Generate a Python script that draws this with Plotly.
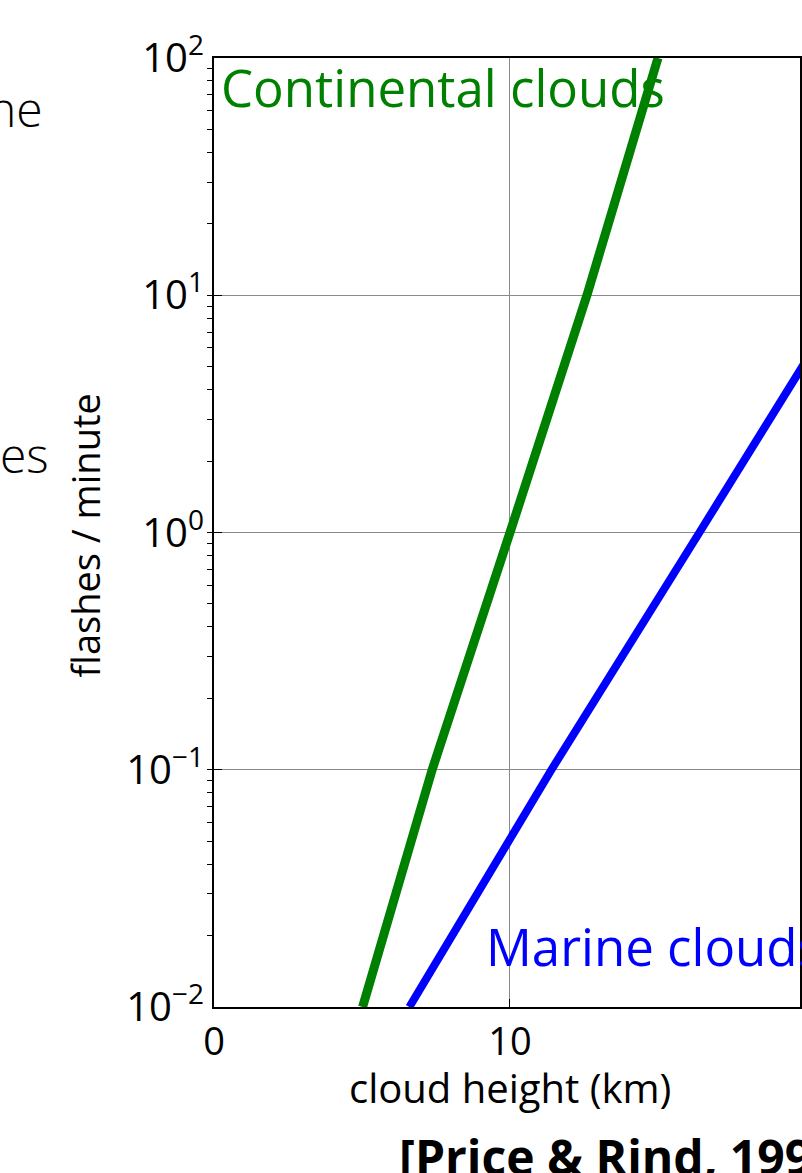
import plotly.graph_objects as go

# Data (cloud height in km, flashes per minute)
cont_height = [5.02, 7.37, 10.0, 12.6, 15.0]
cont_flashes = [0.01, 0.1, 1.0, 10.0, 100.0]

marine_height = [6.6, 11.4, 16.4, 20.0]
marine_flashes = [0.01, 0.1, 1.0, 5.3]

y_tickvals = [0.01, 0.1, 1, 10, 100]
y_ticktext = ["10<sup>\u22122</sup>", "10<sup>\u22121</sup>", "10<sup>0</sup>",
              "10<sup>1</sup>", "10<sup>2</sup>"]
x_tickvals = [0, 10]
x_ticktext = ["0", "10"]

W, H = 802, 1173
L, T, B, R = 214, 58, 166, 0
PW, PH = W - L - R, H - T - B

def px(x):
    return (x - L) / PW

def py(y):
    return (H - B - y) / PH

FONT = "Open Sans"

fig = go.Figure()
fig.add_trace(go.Scatter(x=cont_height, y=cont_flashes, mode="lines",
                         line=dict(color="#008000", width=9), showlegend=False))
fig.add_trace(go.Scatter(x=marine_height, y=marine_flashes, mode="lines",
                         line=dict(color="#0000ff", width=8), showlegend=False))

fig.update_layout(
    width=W, height=H,
    margin=dict(l=L, r=R, t=T, b=B, pad=0),
    paper_bgcolor="white", plot_bgcolor="white",
    font=dict(family=FONT, color="black"),
    xaxis=dict(range=[0, PW / 29.7], tickvals=x_tickvals, ticktext=x_ticktext,
               showgrid=True, gridcolor="#8a8a8a", gridwidth=1,
               showline=True, linecolor="black", linewidth=2, mirror=True,
               ticks="inside", ticklen=8, tickcolor="black",
               tickfont=dict(size=38, family=FONT), zeroline=False),
    yaxis=dict(type="log", range=[-2, 2], tickvals=y_tickvals, ticktext=y_ticktext,
               showgrid=True, gridcolor="#8a8a8a", gridwidth=1,
               showline=True, linecolor="black", linewidth=2, mirror=True,
               ticks="inside", ticklen=8, tickcolor="black",
               tickfont=dict(size=40, family=FONT),
               minor=dict(ticks="outside", ticklen=5, tickcolor="black",
                          showgrid=False, dtick="D1")),
)

ann = [
    dict(text="Continental clouds", x=px(219), y=py(50), xanchor="left", yanchor="top",
         font=dict(size=51, color="#008000", family=FONT)),
    dict(text="Marine clouds", x=px(485), y=py(909), xanchor="left", yanchor="top",
         font=dict(size=51, color="#0000ff", family=FONT)),
    dict(text="flashes / minute", x=px(85), y=py(535), xanchor="center", yanchor="middle",
         textangle=-90, font=dict(size=38, family=FONT)),
    dict(text="cloud height (km)", x=px(511), y=py(1058), xanchor="center", yanchor="top",
         font=dict(size=40, family=FONT)),
    dict(text="<b>[Price &amp; Rind, 1992]</b>", x=px(398), y=py(1122), xanchor="left", yanchor="top",
         font=dict(size=48, family=FONT)),
    dict(text="ne", x=px(44), y=py(108), xanchor="right", yanchor="middle",
         font=dict(size=48, family=FONT, weight=300)),
    dict(text="es", x=px(50), y=py(454), xanchor="right", yanchor="middle",
         font=dict(size=48, family=FONT, weight=300)),
]
for a in ann:
    a.update(xref="paper", yref="paper", showarrow=False)
fig.update_layout(annotations=ann)

fig.write_html("out.html", config={"displayModeBar": False},
               post_script="document.body.style.margin='0';document.body.style.overflow='hidden';")
